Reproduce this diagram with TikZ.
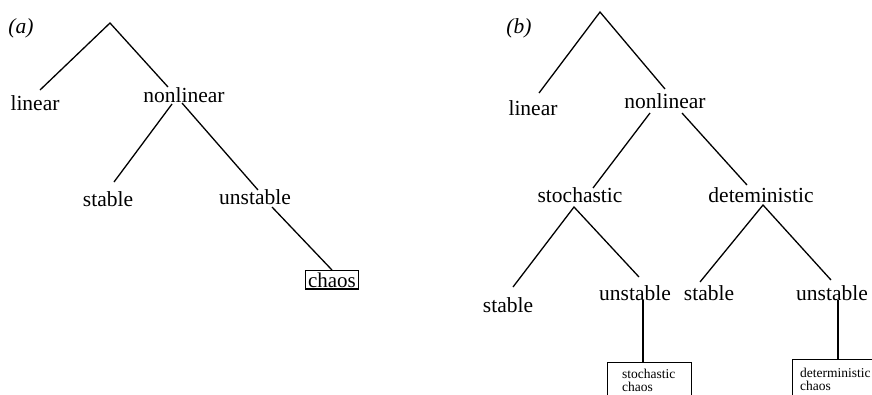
\documentclass[tikz,border=0pt]{standalone}
\usepackage{fontspec}
\setmainfont{Liberation Serif}
\begin{document}
\begin{tikzpicture}[x=1pt,y=-1pt,
  lbl/.style={inner sep=0pt,anchor=base,font=\fontsize{21.5}{24}\selectfont},
  small/.style={inner sep=0pt,anchor=base west,font=\fontsize{13.5}{16}\selectfont},
  branch/.style={line width=1.3pt,black},
  chaosbox/.style={draw,line width=1.2pt,inner sep=0pt},
]
\useasboundingbox (0,0) rectangle (872,394);
\clip (0,0) rectangle (872,394);

% ---------------- tree (a) ----------------
\node[lbl,font=\fontsize{21.5}{24}\selectfont\itshape] (pa) at (21,33) {(a)};
\coordinate (a0) at (110,23);
\node[lbl] (alin) at (35,110) {linear};
\node[lbl] (anl) at (184,102) {nonlinear};
\node[lbl] (ast) at (108,206) {stable};
\node[lbl] (aun) at (255,204) {unstable};
\node[chaosbox,anchor=base,inner xsep=2.5pt,inner ysep=1.8pt,
      font=\fontsize{21}{24}\selectfont] (ach) at (332,287) {chaos};

\coordinate (a1) at (40,90);
\coordinate (a2) at (168,87);
\coordinate (a3) at (172,104);
\coordinate (a4) at (114,182);
\coordinate (a5) at (182,103);
\coordinate (a6) at (258,190);
\coordinate (a7) at (272,207);
\draw[branch] (a1) -- (a0) -- (a2);
\draw[branch] (a3) -- (a4);
\draw[branch] (a5) -- (a6);
\draw[branch] (a7) -- (ach.north);

% ---------------- tree (b) ----------------
\node[lbl,font=\fontsize{21.5}{24}\selectfont\itshape] (pb) at (519,33) {(b)};
\coordinate (b0) at (600,12);
\node[lbl] (blin) at (533,115) {linear};
\node[lbl] (bnl) at (665,108) {nonlinear};
\node[lbl] (bsto) at (580,202) {stochastic};
\node[lbl] (bdet) at (761,202) {deteministic};
\node[lbl] (bst1) at (508,312) {stable};
\node[lbl] (bun1) at (635,300) {unstable};
\node[lbl] (bst2) at (709,300) {stable};
\node[lbl] (bun2) at (832,300) {unstable};

\coordinate (b1) at (539,93);
\coordinate (b2) at (665,89);
\coordinate (b3) at (650,113);
\coordinate (b4) at (593,188);
\coordinate (b5) at (682,113);
\coordinate (b6) at (747,185);
\coordinate (b7) at (574,207);
\coordinate (b8) at (513,287);
\coordinate (b9) at (639,277);
\coordinate (b10) at (763,205);
\coordinate (b11) at (700,282);
\coordinate (b12) at (831,280);
\coordinate (b13) at (643,300);
\coordinate (b14) at (838,300);

\draw[branch] (b1) -- (b0) -- (b2);
\draw[branch] (b3) -- (b4);
\draw[branch] (b5) -- (b6);
\draw[branch] (b8) -- (b7) -- (b9);
\draw[branch] (b11) -- (b10) -- (b12);

% chaos boxes, running off the lower and right edges
\node[chaosbox,anchor=north west,minimum width=84pt,minimum height=50pt] (bsc) at (607,362) {};
\node[small] (bsct1) at (622,378) {stochastic};
\node[small] (bsct2) at (622,391) {chaos};
\node[chaosbox,anchor=north west,minimum width=100pt,minimum height=50pt] (bdc) at (792,359) {};
\node[small] (bdct1) at (800,377) {deterministic};
\node[small] (bdct2) at (800,390) {chaos};

\draw[branch] (b13) -- (bsc.north -| b13);
\draw[branch] (b14) -- (bdc.north -| b14);
\end{tikzpicture}
\end{document}
